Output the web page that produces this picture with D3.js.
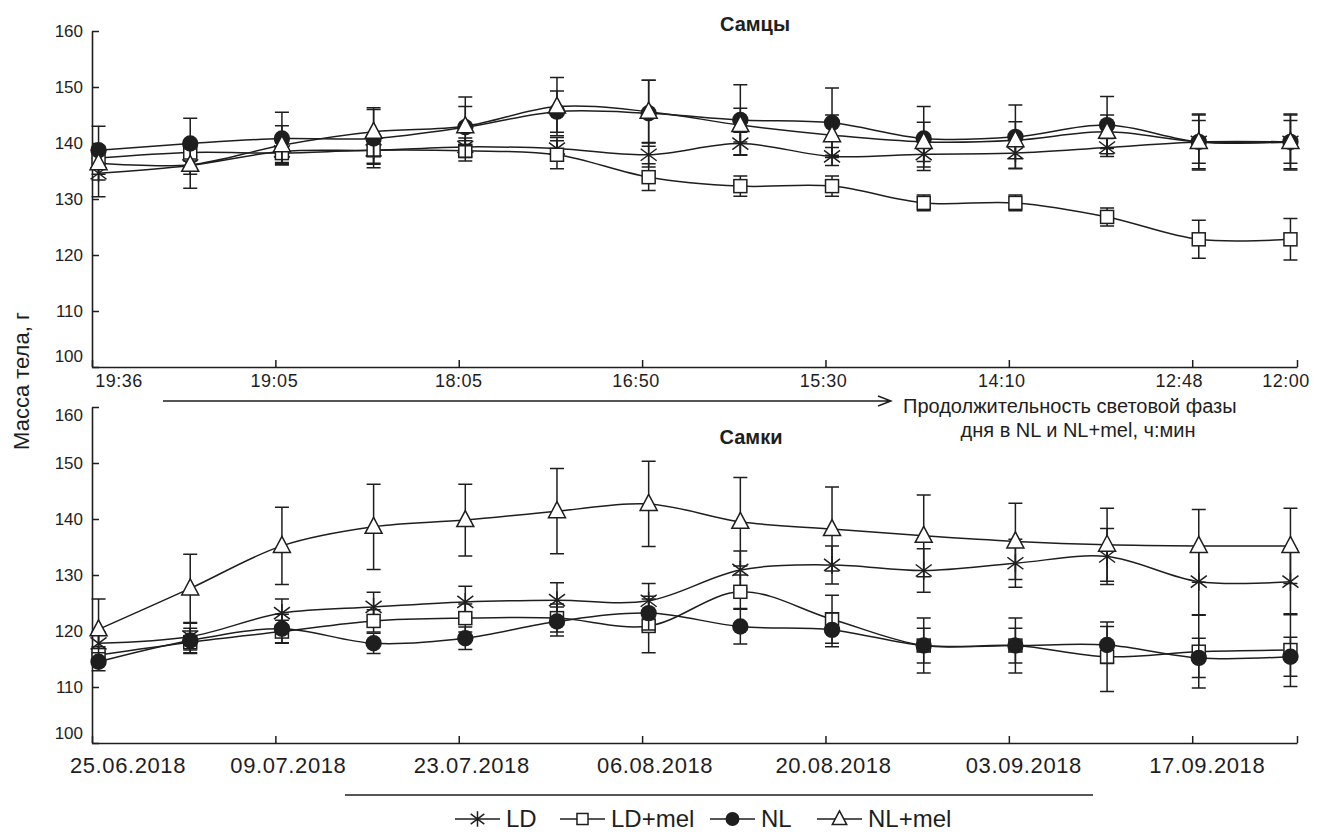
<!DOCTYPE html>
<html>
<head>
<meta charset="utf-8">
<script src="https://cdn.jsdelivr.net/npm/d3@7/dist/d3.min.js"></script>
<style>
  html, body { margin: 0; padding: 0; background: #fff; }
  svg { display: block; font-family: "Liberation Sans", Arial, sans-serif; }
</style>
</head>
<body>
<svg id="chart" width="1320" height="832"></svg>
<script>
// ---------------- DATA ----------------
const sampleDates = ["25.06.2018","02.07.2018","09.07.2018","16.07.2018","23.07.2018","30.07.2018",
  "06.08.2018","13.08.2018","20.08.2018","27.08.2018","03.09.2018","10.09.2018","17.09.2018","24.09.2018"];
const tickDates = ["25.06.2018","09.07.2018","23.07.2018","06.08.2018","20.08.2018","03.09.2018","17.09.2018","25.09.2018"];
const dateLabels = ["25.06.2018","09.07.2018","23.07.2018","06.08.2018","20.08.2018","03.09.2018","17.09.2018",""];
const photoperiodLabels = ["19:36","19:05","18:05","16:50","15:30","14:10","12:48","12:00"];
const yTicks = [100, 110, 120, 130, 140, 150, 160];
const seriesNames = ["LD", "LD+mel", "NL", "NL+mel"];

// Males (Самцы)
const maleLD       = [134.6, 136.0, 138.5, 138.7, 139.3, 139.0, 137.9, 139.9, 137.6, 138.0, 138.2, 139.2, 140.2, 140.2];
const maleLDmel    = [137.3, 138.3, 138.2, 138.7, 138.6, 137.9, 133.9, 132.3, 132.3, 129.3, 129.3, 126.8, 122.8, 122.8];
const maleNL       = [138.7, 139.9, 140.8, 140.8, 142.8, 145.6, 145.3, 144.1, 143.6, 140.8, 141.1, 143.2, 140.2, 140.2];
const maleNLmel    = [136.4, 136.1, 139.6, 142.0, 143.0, 146.5, 145.6, 143.2, 141.4, 140.2, 140.5, 142.0, 140.2, 140.2];
const maleLDerr    = [4.2, 1.6, 2.0, 2.3, 1.6, 2.0, 2.2, 2.0, 1.6, 2.3, 2.7, 1.6, 5.0, 5.0];
const maleLDmelErr = [1.5, 1.5, 1.8, 2.5, 1.8, 2.5, 2.4, 1.8, 1.8, 1.4, 1.4, 1.6, 3.4, 3.7];
const maleNLerr    = [4.3, 4.5, 4.7, 5.2, 5.4, 3.7, 5.9, 6.3, 6.2, 5.7, 5.7, 5.1, 4.8, 4.8];
const maleNLmelErr = [3.0, 4.2, 3.5, 4.3, 3.5, 5.2, 5.6, 3.0, 3.6, 3.5, 3.3, 3.0, 3.8, 3.8];

// Females (Самки)
const femaleLD       = [117.8, 119.0, 123.2, 124.3, 125.2, 125.5, 125.4, 130.9, 131.8, 130.8, 132.1, 133.3, 128.8, 128.8];
const femaleLDmel    = [115.7, 118.0, 119.9, 121.8, 122.3, 122.3, 120.9, 127.0, 122.1, 117.4, 117.4, 115.4, 116.3, 116.6];
const femaleNL       = [114.5, 118.3, 120.4, 117.8, 118.7, 121.7, 123.2, 120.8, 120.2, 117.4, 117.4, 117.5, 115.2, 115.4];
const femaleNLmel    = [120.3, 127.6, 135.2, 138.6, 139.8, 141.4, 142.7, 139.5, 138.2, 137.0, 136.0, 135.4, 135.2, 135.2];
const femaleLDerr    = [2.0, 2.4, 2.5, 2.6, 2.8, 3.1, 3.1, 3.4, 3.4, 3.9, 4.3, 5.0, 5.9, 5.9];
const femaleLDmelErr = [1.5, 2.0, 2.0, 2.0, 2.5, 2.5, 4.8, 3.0, 4.3, 4.9, 4.9, 6.2, 6.5, 6.5];
const femaleNLerr    = [1.6, 2.2, 2.6, 1.8, 2.0, 2.6, 3.0, 3.1, 3.0, 3.1, 3.1, 3.3, 3.5, 3.5];
const femaleNLmelErr = [5.4, 6.1, 6.9, 7.6, 6.4, 7.6, 7.6, 7.9, 7.5, 7.3, 6.8, 6.5, 6.5, 6.7];

// ---------------- SETUP ----------------
const parse = d3.timeParse("%d.%m.%Y");
const svg = d3.select("#chart");
const INK = "#1e1e1e";

const x = d3.scaleTime()
  .domain([parse("25.06.2018"), parse("25.09.2018")])
  .range([92, 1297]);
const pointDate = s => d3.timeHour.offset(parse(s), 12);

const panels = [
  { title: "Самцы", range: [367, 31], titleXY: [755, 31],
    values: [maleLD, maleLDmel, maleNL, maleNLmel],
    errs: [maleLDerr, maleLDmelErr, maleNLerr, maleNLmelErr],
    labelNudge: { 100: -11 } },
  { title: "Самки", range: [743, 407], titleXY: [751, 444],
    values: [femaleLD, femaleLDmel, femaleNL, femaleNLmel],
    errs: [femaleLDerr, femaleLDmelErr, femaleNLerr, femaleNLmelErr],
    labelNudge: { 100: -10, 160: 8 } }
];

function drawMarker(g, name, cx, cy, s) {
  s = s || 1;
  if (name === "LD") {
    g.append("path")
      .attr("d", `M${cx},${cy-9*s}L${cx},${cy+9*s}M${cx-8*s},${cy-6*s}L${cx+8*s},${cy+6*s}M${cx-8*s},${cy+6*s}L${cx+8*s},${cy-6*s}`)
      .attr("stroke", INK).attr("stroke-width", 1.5).attr("fill", "none");
  } else if (name === "LD+mel") {
    g.append("rect").attr("x", cx-6.5*s).attr("y", cy-6.5*s).attr("width", 13*s).attr("height", 13*s)
      .attr("fill", "#fff").attr("stroke", INK).attr("stroke-width", 1.5);
  } else if (name === "NL") {
    g.append("circle").attr("cx", cx).attr("cy", cy).attr("r", 8.2*s).attr("fill", INK);
  } else {
    g.append("path")
      .attr("d", `M${cx},${cy-9.5*s}L${cx+8.5*s},${cy+6.5*s}L${cx-8.5*s},${cy+6.5*s}Z`)
      .attr("fill", "#fff").attr("stroke", INK).attr("stroke-width", 1.5);
  }
}

panels.forEach(p => {
  const y = d3.scaleLinear().domain([100, 160]).range(p.range);
  const g = svg.append("g");

  // Y axis
  const yAx = g.append("g").attr("transform", "translate(92,0)")
    .call(d3.axisLeft(y).tickValues(yTicks).tickSizeInner(-7).tickSizeOuter(0).tickPadding(9));
  yAx.select(".domain").attr("stroke", INK).attr("stroke-width", 1.6);
  yAx.selectAll(".tick line").attr("stroke", INK).attr("stroke-width", 1.5);
  yAx.selectAll(".tick text").attr("font-size", 17).attr("fill", INK)
    .attr("font-family", "Liberation Sans, Arial, sans-serif")
    .attr("dy", d => (0.32 + (p.labelNudge[d] || 0) / 17) + "em");

  // X axis
  const xAx = g.append("g").attr("transform", `translate(0,${p.range[0]})`)
    .call(d3.axisBottom(x).tickValues(tickDates.map(parse)).tickSizeInner(-7).tickSizeOuter(0).tickFormat(""));
  xAx.select(".domain").attr("stroke", INK).attr("stroke-width", 1.6);
  xAx.selectAll(".tick line").attr("stroke", INK).attr("stroke-width", 1.5);

  // Title
  g.append("text").attr("x", p.titleXY[0]).attr("y", p.titleXY[1])
    .attr("text-anchor", "middle").attr("font-size", 20).attr("font-weight", "bold")
    .attr("fill", INK).text(p.title);

  const line = d3.line().x(d => x(d[0])).y(d => y(d[1])).curve(d3.curveCatmullRom.alpha(0.5));

  // series: error bars + line + markers
  seriesNames.forEach((name, si) => {
    const vals = p.values[si], errs = p.errs[si];
    const pts = sampleDates.map((s, i) => [pointDate(s), vals[i], errs[i]]);
    const sg = g.append("g");
    pts.forEach(d => {
      const cx = x(d[0]);
      sg.append("path")
        .attr("d", `M${cx},${y(d[1]-d[2])}L${cx},${y(d[1]+d[2])}M${cx-7},${y(d[1]+d[2])}L${cx+7},${y(d[1]+d[2])}M${cx-7},${y(d[1]-d[2])}L${cx+7},${y(d[1]-d[2])}`)
        .attr("stroke", INK).attr("stroke-width", 1.5).attr("fill", "none");
    });
    sg.append("path").datum(pts).attr("d", line)
      .attr("fill", "none").attr("stroke", INK).attr("stroke-width", 1.5);
    pts.forEach(d => drawMarker(sg, name, x(d[0]), y(d[1])));
  });
});

// Top x labels (photoperiod) and bottom date labels
const topNudge = [27, -1, 0, -6, -2, -7, -13, -11];
const botNudge = [36, 13, 13, 13, 8, 15, 15, 0];
tickDates.forEach((s, i) => {
  svg.append("text").attr("x", x(parse(s)) + topNudge[i]).attr("y", 387)
    .attr("text-anchor", "middle").attr("font-size", 18).attr("letter-spacing", 0.5)
    .attr("fill", INK).text(photoperiodLabels[i]);
  svg.append("text").attr("x", x(parse(s)) + botNudge[i]).attr("y", 773)
    .attr("text-anchor", "middle").attr("font-size", 22).attr("letter-spacing", 0.6)
    .attr("fill", INK).text(dateLabels[i]);
});

// Arrow for photoperiod
svg.append("path").attr("d", "M163,401L891,401M878,396L891,401L878,406")
  .attr("stroke", INK).attr("stroke-width", 1.4).attr("fill", "none");
svg.append("text").attr("x", 903).attr("y", 413).attr("font-size", 20).attr("fill", INK)
  .text("Продолжительность световой фазы");
svg.append("text").attr("x", 1078).attr("y", 437).attr("text-anchor", "middle").attr("font-size", 20).attr("fill", INK)
  .text("дня в NL и NL+mel, ч:мин");

// Bottom underline
svg.append("path").attr("d", "M345,795L1093,795").attr("stroke", INK).attr("stroke-width", 1.4);

// Y axis title
svg.append("text").attr("transform", "translate(29,381) rotate(-90)")
  .attr("text-anchor", "middle").attr("font-size", 22).attr("fill", INK).text("Масса тела, г");

// Legend
const legendX = [455, 560, 710, 817];
const legendW = 45;
const ly = 819;
seriesNames.forEach((name, i) => {
  const lx = legendX[i];
  const lg = svg.append("g");
  lg.append("path").attr("d", `M${lx},${ly}L${lx + legendW},${ly}`).attr("stroke", INK).attr("stroke-width", 1.5);
  drawMarker(lg, name, lx + legendW / 2, ly, 0.85);
  lg.append("text").attr("x", lx + legendW + 6).attr("y", ly + 8).attr("font-size", 24).attr("fill", INK).text(name);
});
</script>
</body>
</html>
